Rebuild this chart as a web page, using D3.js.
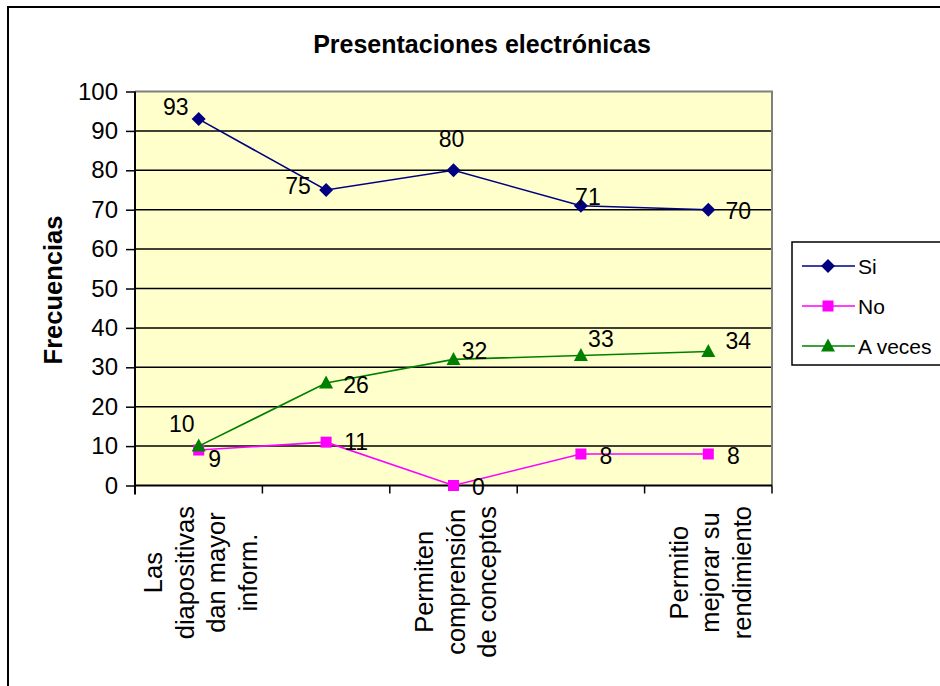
<!DOCTYPE html>
<html>
<head>
<meta charset="utf-8">
<script src="https://cdn.jsdelivr.net/npm/d3@7/dist/d3.min.js"></script>
<style>
  html, body { margin: 0; padding: 0; background: #fff; }
  svg { display: block; font-family: Arial, "Liberation Sans", sans-serif; }
</style>
</head>
<body>
<svg id="chart" width="940" height="686"></svg>
<script>
// ---------- data ----------
const title = "Presentaciones electrónicas";
const yAxisTitle = "Frecuencias";
const categories = ["Las diapositivas dan mayor inform.", "cat2", "Permiten comprensión de conceptos", "cat4", "Permitio mejorar su rendimiento"];
const tickLabels = [
  ["Las", "diapositivas", "dan mayor", "inform."],
  [],
  ["Permiten", "comprensión", "de conceptos"],
  [],
  ["Permitio", "mejorar su", "rendimiento"]
];
const yTicks = [0, 10, 20, 30, 40, 50, 60, 70, 80, 90, 100];
const seriesNames = ["Si", "No", "A veces"];
const siValues = [93, 75, 80, 71, 70];
const noValues = [9, 11, 0, 8, 8];
const aVecesValues = [10, 26, 32, 33, 34];

// ---------- styles ----------
const colors = ["#000080", "#FF00FF", "#008000"];
const markers = ["diamond", "square", "triangle"];
// label offsets (px) relative to the marker, per series/point
const labelOffsets = [
  [[-23, -12], [-28, -4], [-2, -31], [7, -9], [30, 1]],
  [[16, 9], [30, 0], [25, 1], [25, 2], [25, 2]],
  [[-17, -22], [30, 2], [21, -8], [20, -16], [30, -11]]
];

const series = [siValues, noValues, aVecesValues].map((vals, i) => ({
  name: seriesNames[i], values: vals, color: colors[i], marker: markers[i], offsets: labelOffsets[i]
}));

const svg = d3.select("#chart");

// outer frame
svg.append("rect").attr("x", 8).attr("y", 7).attr("width", 960).attr("height", 720)
  .attr("fill", "none").attr("stroke", "#000").attr("stroke-width", 2);

const plot = { left: 135, right: 772, top: 91.5, bottom: 485.5 };

const x = d3.scaleBand().domain(d3.range(categories.length)).range([plot.left, plot.right]).padding(0);
const y = d3.scaleLinear().domain([0, 100]).range([plot.bottom, plot.top]);
const cx = i => x(i) + x.bandwidth() / 2;

// plot background
svg.append("rect").attr("x", plot.left).attr("y", plot.top)
  .attr("width", plot.right - plot.left).attr("height", plot.bottom - plot.top)
  .attr("fill", "#FFFFCC");

// gridlines
svg.append("g").selectAll("line").data(yTicks.filter(t => t > 0 && t < 100)).join("line")
  .attr("x1", plot.left).attr("x2", plot.right)
  .attr("y1", d => y(d)).attr("y2", d => y(d))
  .attr("stroke", "#000").attr("stroke-width", 1.5);

// gray top/right border
svg.append("path")
  .attr("d", `M${plot.left},${plot.top}H${plot.right}V${plot.bottom}`)
  .attr("fill", "none").attr("stroke", "#808080").attr("stroke-width", 2);

// y axis
const yAxis = d3.axisLeft(y).tickValues(yTicks).tickSize(9).tickPadding(8).tickFormat(d3.format("d"));
const gy = svg.append("g").attr("transform", `translate(${plot.left},0)`).call(yAxis);
gy.select(".domain").attr("stroke", "#000").attr("stroke-width", 2).attr("d", `M0,${plot.bottom + 9}V${plot.top}`);
gy.selectAll(".tick line").attr("stroke", "#000").attr("stroke-width", 1.5);
gy.selectAll(".tick text").attr("font-size", "24px").attr("fill", "#000")
  .attr("font-family", "Arial, 'Liberation Sans', sans-serif");

// x axis (ticks at band boundaries)
const boundaries = d3.range(categories.length + 1).map(i => i < categories.length ? x(i) : plot.right);
const gx = svg.append("g");
gx.append("line").attr("x1", plot.left).attr("x2", plot.right)
  .attr("y1", plot.bottom).attr("y2", plot.bottom).attr("stroke", "#000").attr("stroke-width", 2);
gx.selectAll("line.tk").data(boundaries).join("line").attr("class", "tk")
  .attr("x1", d => d).attr("x2", d => d).attr("y1", plot.bottom).attr("y2", plot.bottom + 8)
  .attr("stroke", "#000").attr("stroke-width", 1.5);

// category labels (rotated, multi-line, centered lines, top-anchored)
const catFont = 25.5, lineH = 31.5, labelTop = 506;
tickLabels.forEach((lines, i) => {
  if (!lines.length) return;
  const g = svg.append("g");
  const texts = lines.map(l => g.append("text").attr("font-size", catFont + "px").attr("fill", "#000")
    .attr("text-anchor", "middle").text(l));
  const maxW = d3.max(texts, t => t.node().getComputedTextLength());
  const yc = labelTop + maxW / 2;
  const n = lines.length;
  texts.forEach((t, j) => {
    const bx = cx(i) + (j - (n - 1) / 2) * lineH + 11;
    t.attr("transform", `translate(${bx},${yc}) rotate(-90)`);
  });
});

// lines and markers
const line = d3.line().x((d, i) => cx(i)).y(d => y(d));
function drawMarker(g, type, px, py, color) {
  if (type === "diamond") {
    g.append("path").attr("d", `M${px},${py - 7}L${px + 7},${py}L${px},${py + 7}L${px - 7},${py}Z`).attr("fill", color);
  } else if (type === "square") {
    g.append("rect").attr("x", px - 5.5).attr("y", py - 5.5).attr("width", 11).attr("height", 11).attr("fill", color);
  } else {
    g.append("path").attr("d", `M${px},${py - 7.5}L${px + 7},${py + 5.5}L${px - 7},${py + 5.5}Z`).attr("fill", color);
  }
}
series.forEach(s => {
  const g = svg.append("g");
  g.append("path").attr("d", line(s.values)).attr("fill", "none").attr("stroke", s.color).attr("stroke-width", 1.6);
  s.values.forEach((v, i) => drawMarker(g, s.marker, cx(i), y(v), s.color));
});
// data labels
series.forEach(s => {
  svg.append("g").selectAll("text").data(s.values).join("text")
    .attr("x", (d, i) => cx(i) + s.offsets[i][0])
    .attr("y", (d, i) => y(d) + s.offsets[i][1])
    .attr("text-anchor", "middle").attr("dominant-baseline", "central")
    .attr("font-size", "23px").attr("fill", "#000").text(d => d);
});

// title
svg.append("text").attr("x", 482).attr("y", 53).attr("text-anchor", "middle")
  .attr("font-size", "25px").attr("font-weight", "bold").attr("fill", "#000").text(title);

// y axis title
svg.append("text").attr("transform", `translate(62,290) rotate(-90)`).attr("text-anchor", "middle")
  .attr("font-size", "25.5px").attr("font-weight", "bold").attr("fill", "#000").text(yAxisTitle);

// legend
const leg = svg.append("g");
leg.append("rect").attr("x", 792).attr("y", 242).attr("width", 160).attr("height", 123)
  .attr("fill", "#fff").attr("stroke", "#000").attr("stroke-width", 1.5);
series.forEach((s, i) => {
  const ly = 266 + i * 40;
  leg.append("line").attr("x1", 802).attr("x2", 855).attr("y1", ly).attr("y2", ly)
    .attr("stroke", s.color).attr("stroke-width", 1.6);
  drawMarker(leg, s.marker, 828, ly, s.color);
  leg.append("text").attr("x", 858).attr("y", ly).attr("dominant-baseline", "central")
    .attr("font-size", "21px").attr("fill", "#000").text(s.name);
});
</script>
</body>
</html>
